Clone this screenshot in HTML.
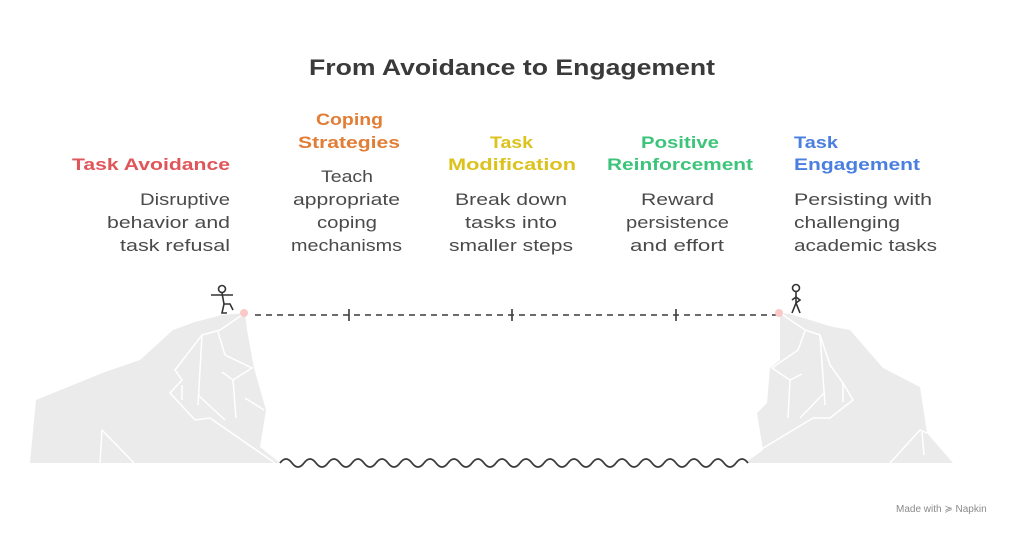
<!DOCTYPE html>
<html><head><meta charset="utf-8"><style>
html,body{margin:0;padding:0;background:#fff;}
svg{display:block;}
text{font-family:"Liberation Sans",sans-serif;}
.h{font-weight:bold;font-size:17px;}
.b{font-size:17px;fill:#4a4a4a;}
</style></head><body>
<svg width="1024" height="535" viewBox="0 0 1024 535" xmlns="http://www.w3.org/2000/svg">
<text x="512" y="75" text-anchor="middle" font-weight="bold" font-size="22" fill="#3a3a3a" textLength="406" lengthAdjust="spacingAndGlyphs">From Avoidance to Engagement</text>

<!-- col1 -->
<text class="h" x="72" y="170" fill="#e0555a" textLength="158" lengthAdjust="spacingAndGlyphs">Task Avoidance</text>
<text class="b" x="140" y="205" textLength="90" lengthAdjust="spacingAndGlyphs">Disruptive</text>
<text class="b" x="107" y="228" textLength="123" lengthAdjust="spacingAndGlyphs">behavior and</text>
<text class="b" x="120" y="251" textLength="110" lengthAdjust="spacingAndGlyphs">task refusal</text>
<!-- col2 -->
<text class="h" x="316" y="125" fill="#e27d35" textLength="67" lengthAdjust="spacingAndGlyphs">Coping</text>
<text class="h" x="298" y="148" fill="#e27d35" textLength="102" lengthAdjust="spacingAndGlyphs">Strategies</text>
<text class="b" x="321" y="182" textLength="52" lengthAdjust="spacingAndGlyphs">Teach</text>
<text class="b" x="293" y="205" textLength="107" lengthAdjust="spacingAndGlyphs">appropriate</text>
<text class="b" x="317" y="228" textLength="60" lengthAdjust="spacingAndGlyphs">coping</text>
<text class="b" x="291" y="251" textLength="111" lengthAdjust="spacingAndGlyphs">mechanisms</text>
<!-- col3 -->
<text class="h" x="490" y="148" fill="#dcc21c" textLength="43" lengthAdjust="spacingAndGlyphs">Task</text>
<text class="h" x="448" y="170" fill="#dcc21c" textLength="128" lengthAdjust="spacingAndGlyphs">Modification</text>
<text class="b" x="455" y="205" textLength="112" lengthAdjust="spacingAndGlyphs">Break down</text>
<text class="b" x="465" y="228" textLength="92" lengthAdjust="spacingAndGlyphs">tasks into</text>
<text class="b" x="449" y="251" textLength="124" lengthAdjust="spacingAndGlyphs">smaller steps</text>
<!-- col4 -->
<text class="h" x="641" y="148" fill="#3cc47a" textLength="78" lengthAdjust="spacingAndGlyphs">Positive</text>
<text class="h" x="607" y="170" fill="#3cc47a" textLength="146" lengthAdjust="spacingAndGlyphs">Reinforcement</text>
<text class="b" x="641" y="205" textLength="73" lengthAdjust="spacingAndGlyphs">Reward</text>
<text class="b" x="626" y="228" textLength="103" lengthAdjust="spacingAndGlyphs">persistence</text>
<text class="b" x="630" y="251" textLength="94" lengthAdjust="spacingAndGlyphs">and effort</text>
<!-- col5 -->
<text class="h" x="794" y="148" fill="#4a7fe0" textLength="44" lengthAdjust="spacingAndGlyphs">Task</text>
<text class="h" x="794" y="170" fill="#4a7fe0" textLength="126" lengthAdjust="spacingAndGlyphs">Engagement</text>
<text class="b" x="794" y="205" textLength="138" lengthAdjust="spacingAndGlyphs">Persisting with</text>
<text class="b" x="794" y="228" textLength="106" lengthAdjust="spacingAndGlyphs">challenging</text>
<text class="b" x="794" y="251" textLength="143" lengthAdjust="spacingAndGlyphs">academic tasks</text>

<!-- cliffs -->
<polygon points="30,463 36,400 105,372 140,360 173,330 195,322 222,315 245,313 247,330 254,368 266,410 260,447 280,463" fill="#ebebeb"/>
<g stroke="#fff" stroke-width="1.5" fill="none">
<polyline points="245,313 220,330 202,335 175,370 182,380 170,393 195,420 210,418 275,463"/>
<line x1="202" y1="335" x2="198" y2="405"/><line x1="218" y1="332" x2="225" y2="355" /><polyline points="225,355 252,368 233,380 222,372"/>
<line x1="233" y1="380" x2="236" y2="418"/><line x1="198" y1="395" x2="225" y2="420"/><line x1="182" y1="385" x2="182" y2="400"/>
<line x1="245" y1="398" x2="264" y2="410"/><line x1="100" y1="463" x2="102" y2="430"/><line x1="102" y1="430" x2="134" y2="463"/>
</g>
<polygon points="745,463 763,450 757,413 767,403 770,368 780,360 780,313 790,314 833,327 850,330 883,368 920,387 927,433 953,463" fill="#ebebeb"/>
<g stroke="#fff" stroke-width="1.5" fill="none">
<polyline points="780,313 805,330 820,335 830,365 843,383 853,400 830,418 813,418 760,450"/>
<line x1="805" y1="331" x2="798" y2="350"/><polyline points="798,350 772,368 790,380 802,374"/><line x1="790" y1="380" x2="788" y2="418"/>
<line x1="820" y1="335" x2="825" y2="405"/><line x1="825" y1="392" x2="800" y2="418"/><line x1="843" y1="383" x2="843" y2="402"/>
<polyline points="890,463 920,430 927,433"/><line x1="922" y1="432" x2="924" y2="455"/>
</g>

<!-- dashed line -->
<line x1="255" y1="315" x2="776" y2="315" stroke="#3a3a3a" stroke-width="1.6" stroke-dasharray="6,5"/>
<g stroke="#3a3a3a" stroke-width="1.6"><line x1="349" y1="309" x2="349" y2="321"/><line x1="512" y1="309" x2="512" y2="321"/><line x1="676" y1="309" x2="676" y2="321"/></g>
<circle cx="244" cy="313" r="4" fill="#fbc8c8"/><circle cx="779" cy="313" r="4" fill="#fbc8c8"/>

<!-- wave -->
<path d="M280,463 q6,-8 12,0 t12,0 t12,0 t12,0 t12,0 t12,0 t12,0 t12,0 t12,0 t12,0 t12,0 t12,0 t12,0 t12,0 t12,0 t12,0 t12,0 t12,0 t12,0 t12,0 t12,0 t12,0 t12,0 t12,0 t12,0 t12,0 t12,0 t12,0 t12,0 t12,0 t12,0 t12,0 t12,0 t12,0 t12,0 t12,0 t12,0 t12,0 t12,0" stroke="#3a3a3a" stroke-width="1.8" fill="none"/>

<!-- stick figures -->
<g stroke="#333" stroke-width="1.6" fill="none">
<circle cx="222" cy="289" r="3.5"/><line x1="222" y1="293" x2="224" y2="304"/><line x1="211" y1="295" x2="233" y2="295"/>
<polyline points="224,304 222,313 227,313"/><polyline points="224,304 230,304 233,310"/>
<circle cx="796" cy="288" r="3.5"/><line x1="796" y1="292" x2="796" y2="303"/><polyline points="792,300 796,297 800,300 796,303"/>
<line x1="796" y1="303" x2="792" y2="313"/><line x1="796" y1="303" x2="800" y2="313"/>
</g>

<text x="896" y="512" font-size="10" fill="#8a8a8a">Made with ≽ Napkin</text>
</svg>
</body></html>
